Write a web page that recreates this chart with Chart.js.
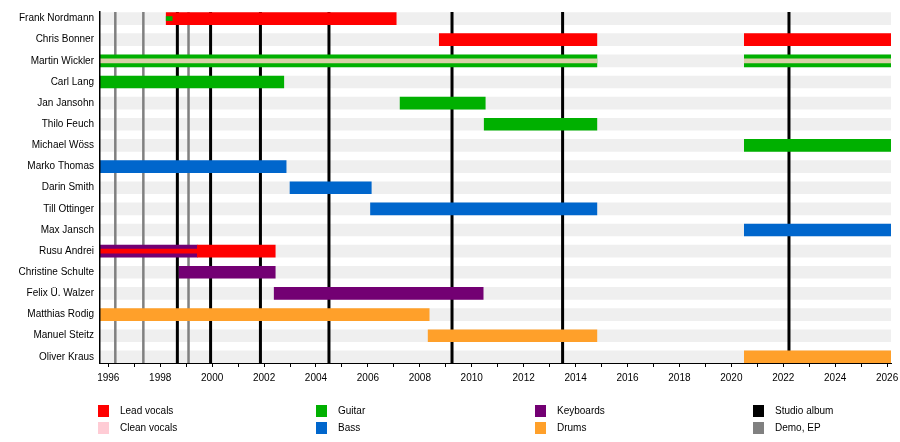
<!DOCTYPE html>
<html>
<head>
<meta charset="utf-8">
<script src="https://cdn.jsdelivr.net/npm/chart.js@4/dist/chart.umd.min.js"></script>
<style>
  body { margin: 0; background: #fff; }
  #wrap { position: relative; width: 900px; height: 442px; }
  .key { position: absolute; font: 10px "Liberation Sans", Arial, sans-serif; color: #000; line-height: 12px; white-space: nowrap; }
  .key span { position: absolute; left: 0; top: 0; width: 11px; height: 12px; }
  .key b { font-weight: normal; position: absolute; left: 22px; top: 0; }
</style>
</head>
<body>
<div id="wrap">
  <canvas id="Chart" width="900" height="442"></canvas>
</div>
<script>
// members, top to bottom
let names = ["Frank Nordmann", "Chris Bonner", "Martin Wickler", "Carl Lang", "Jan Jansohn",
  "Thilo Feuch", "Michael Wöss", "Marko Thomas", "Darin Smith", "Till Ottinger", "Max Jansch",
  "Rusu Andrei", "Christine Schulte", "Felix Ü. Walzer", "Matthias Rodig", "Manuel Steitz", "Oliver Kraus"]

let startYear = 1995.68
let endYear = 2026.15

// [member index, from, to]
let leadVocals = [[0, 1998.23, 2007.09], [1, 2008.75, 2014.82], [1, 2020.5, endYear], [11, 1999.43, 2002.43]]
let guitar = [[2, startYear, 2014.82], [2, 2020.5, endYear], [3, startYear, 2002.76],
  [4, 2007.24, 2010.52], [5, 2010.48, 2014.82], [6, 2020.5, endYear]]
let bass = [[7, startYear, 2002.85], [8, 2003.0, 2006.13], [9, 2006.1, 2014.82], [10, 2020.5, endYear]]
let keyboards = [[11, startYear, 1999.43], [12, 1998.73, 2002.43], [13, 2002.39, 2010.44]]
let drums = [[14, startYear, 2008.36], [15, 2008.32, 2014.82], [16, 2020.5, endYear]]

// thin secondary roles
let cleanVocalsThin = [[2, startYear, 2014.82], [2, 2020.5, endYear]]
let guitarThin = [[0, 1998.23, 1998.46]]
let leadVocalsThin = [[11, startYear, 1999.43]]

let studioAlbums = [1998.66, 1999.94, 2001.86, 2004.5, 2009.24, 2013.5, 2022.22]
let demos = [1996.27, 1997.35, 1999.09]

let yearTicks = []
for (let y = 1996; y <= 2026; y++) yearTicks.push(y)

let rowMin = -0.31
let rowMax = 16.29

let col = {
  lead: "#ff0000", clean: "#ffccd5", guitar: "#00b000", bass: "#0066cc",
  keys: "#730073", drums: "#ffa02a", studio: "#000000", demo: "#808080"
}

function bars(list, color, thick, order) {
  return {
    type: "bar",
    data: list.map(r => ({ x: [r[1], r[2]], y: r[0] })),
    backgroundColor: color,
    barThickness: thick,
    grouped: false,
    borderWidth: 0,
    borderSkipped: false,
    order: order
  }
}

function vline(year, color, width) {
  return {
    type: "line",
    data: [{ x: year, y: rowMin }, { x: year, y: rowMax }],
    borderColor: color,
    borderWidth: width,
    pointRadius: 0,
    order: 3
  }
}

let datasets = []
datasets.push(bars(names.map((n, i) => [i, startYear, endYear]), "#efefef", 12, 5))
demos.forEach(d => datasets.push(vline(d, col.demo, 2.5)))
studioAlbums.forEach(d => datasets.push(vline(d, col.studio, 3)))
datasets.push(bars(leadVocals, col.lead, 12, 1))
datasets.push(bars(guitar, col.guitar, 12, 1))
datasets.push(bars(bass, col.bass, 12, 1))
datasets.push(bars(keyboards, col.keys, 12, 1))
datasets.push(bars(drums, col.drums, 12, 1))
datasets.push(bars(cleanVocalsThin, "#d8d0a8", 4, 0))
datasets.push(bars(guitarThin, col.guitar, 4, 0))
datasets.push(bars(leadVocalsThin, col.lead, 4, 0))

Chart.defaults.font.family = "'Liberation Sans', Arial, sans-serif"
Chart.defaults.font.size = 10
Chart.defaults.color = "#000"

new Chart("Chart", {
  type: "bar",
  data: { datasets: datasets },
  options: {
    indexAxis: "y",
    responsive: false,
    animation: false,
    devicePixelRatio: 1,
    layout: { padding: { top: 10, right: 9, left: 0, bottom: 53 } },
    plugins: { legend: { display: false }, tooltip: { enabled: false } },
    scales: {
      x: {
        type: "linear",
        min: startYear,
        max: endYear,
        offset: false,
        afterBuildTicks: s => { s.ticks = yearTicks.map(v => ({ value: v })) },
        afterFit: s => { s.paddingLeft = 0; s.paddingRight = 0 },
        ticks: {
          autoSkip: false, maxRotation: 0, padding: 5,
          callback: v => (v % 2 === 0 ? String(v) : "")
        },
        grid: { display: true, offset: false, drawOnChartArea: false, drawTicks: true, tickLength: 4, color: "#000" },
        border: { display: true, color: "#000", width: 1, z: 1 }
      },
      y: {
        type: "linear",
        reverse: true,
        min: rowMin,
        max: rowMax,
        offset: false,
        afterBuildTicks: s => { s.ticks = names.map((n, i) => ({ value: i })) },
        afterFit: s => { s.width = 100 },
        ticks: { autoSkip: false, padding: 6, callback: v => names[v] },
        grid: { display: false, offset: false, drawTicks: false },
        border: { display: true, color: "#000", width: 1.5, z: 1 }
      }
    }
  }
})

// legend
let legendItems = [
  ["Lead vocals", col.lead, 98, 405], ["Clean vocals", col.clean, 98, 422],
  ["Guitar", col.guitar, 316, 405], ["Bass", col.bass, 316, 422],
  ["Keyboards", col.keys, 535, 405], ["Drums", col.drums, 535, 422],
  ["Studio album", col.studio, 753, 405], ["Demo, EP", col.demo, 753, 422]
]
let wrap = document.getElementById("wrap")
legendItems.forEach(it => {
  let d = document.createElement("div")
  d.className = "key"
  d.style.left = it[2] + "px"
  d.style.top = it[3] + "px"
  d.innerHTML = '<span style="background:' + it[1] + '"></span><b>' + it[0] + "</b>"
  wrap.appendChild(d)
})
</script>
</body>
</html>
